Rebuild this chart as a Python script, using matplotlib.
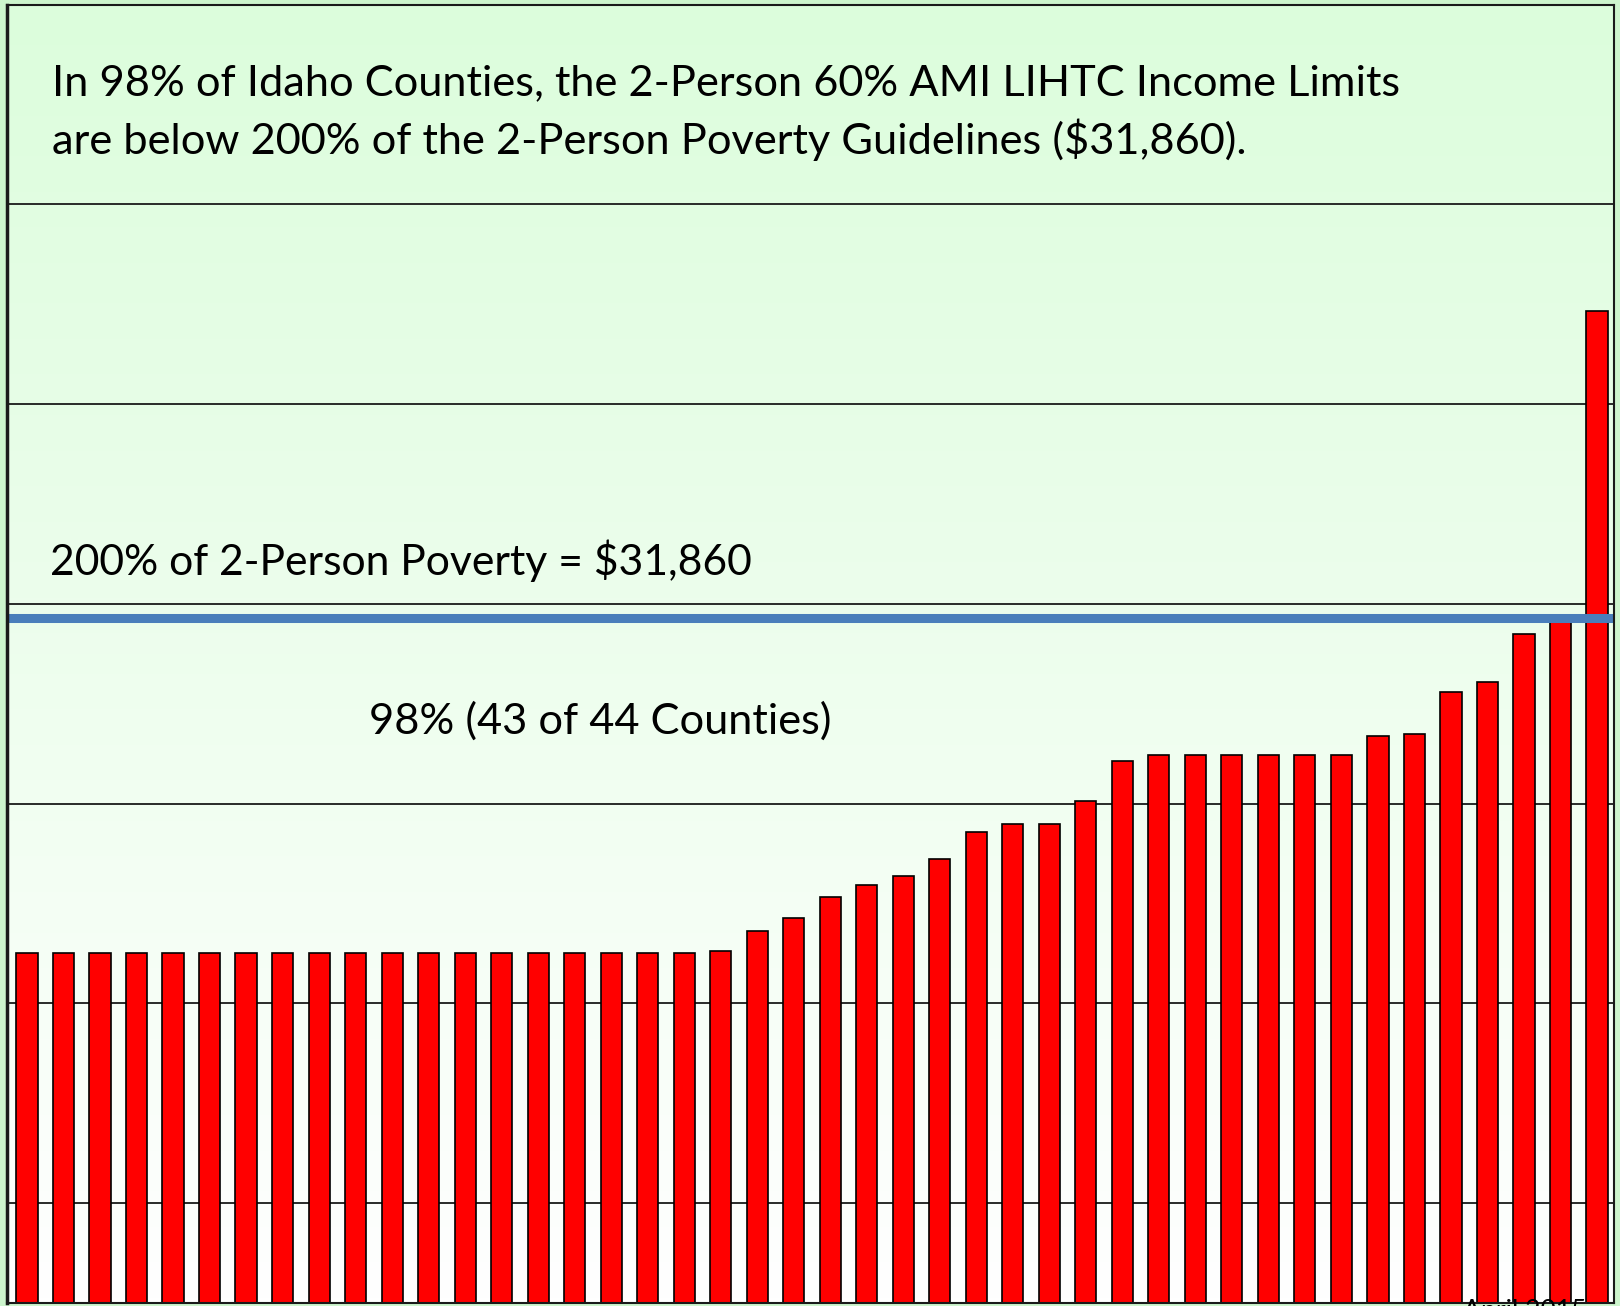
import numpy as np
import matplotlib
matplotlib.use("Agg")
import matplotlib.pyplot as plt
from matplotlib.colors import LinearSegmentedColormap

# ---- data (2-person 60% AMI LIHTC income limits, 44 Idaho counties, sorted) ----
counties = list(range(1, 45))
limits = [28500] * 19 + [28520, 28720, 28850, 29060, 29180, 29270, 29450, 29720,
          29800, 29800, 30030, 30430] + [30490] * 6 + [30680, 30700, 31120, 31220,
          31700, 31820, 34930]
poverty_200 = 31860
grid_values = [26000, 28000, 30000, 32000, 34000, 36000]
y_range = (25000, 38000)

title_lines = ["In 98% of Idaho Counties, the 2-Person 60% AMI LIHTC Income Limits",
               "are below 200% of the 2-Person Poverty Guidelines ($31,860)."]
line_label = "200% of 2-Person Poverty = $31,860"
share_label = "98% (43 of 44 Counties)"
date_label = "April 2015"

W, H = 1620, 1306
fig = plt.figure(figsize=(W / 100, H / 100), dpi=100, facecolor="#cdf5cd")
ax = fig.add_axes([7 / W, 3 / H, (1614 - 7) / W, (1301.5 - 3) / H])

# gradient background: light green at top to white at bottom
cmap = LinearSegmentedColormap.from_list("g", ["#ffffff", "#dcfddc"])
grad = np.linspace(0, 1, 256).reshape(-1, 1)
ax.imshow(grad, cmap=cmap, aspect="auto", extent=[0, 1, 0, 1],
          transform=ax.transAxes, origin="lower", zorder=0)

x = np.arange(len(limits))
ax.bar(x, limits, width=0.58, color="#ff0000", edgecolor="black",
       linewidth=1.2, zorder=3)

ax.set_xlim(-0.548, len(limits) - 1 + 0.466)
ax.set_ylim(*y_range)
ax.set_yticks(grid_values)
ax.set_xticks([])
ax.tick_params(axis="y", length=0, labelleft=False)
ax.yaxis.grid(True, color="#1a1a1a", linewidth=1.3, zorder=1)
ax.set_axisbelow(True)

ax.axhline(poverty_200, color="#4a7ebb", linewidth=6.5, zorder=4)

for s in ax.spines.values():
    s.set_color("#1a1a1a")
    s.set_linewidth(1.5)
    s.set_zorder(5)
ax.spines["left"].set_linewidth(2.5)

FONT = "Lato"
fig.canvas.draw()
renderer = fig.canvas.get_renderer()


def fitted_text(xp, yp, s, target_w, va="baseline", base=30, size=None):
    t = fig.text(xp / W, 1 - yp / H, s, fontsize=base, family=FONT,
                 color="black", va=va, ha="left", zorder=10)
    if size is None:
        w = t.get_window_extent(renderer).width
        size = base * target_w / w
    t.set_fontsize(size)
    return t, size


t1, fs = fitted_text(52, 95.7, title_lines[0], 1345)
fitted_text(52, 154, title_lines[1], None, size=fs)
fitted_text(50, 575, line_label, 702)
fitted_text(369, 734, share_label, 463)
fitted_text(1463, 1299, date_label, 124, va="top", base=14)

fig.savefig("out.png", dpi=100, facecolor=fig.get_facecolor())
